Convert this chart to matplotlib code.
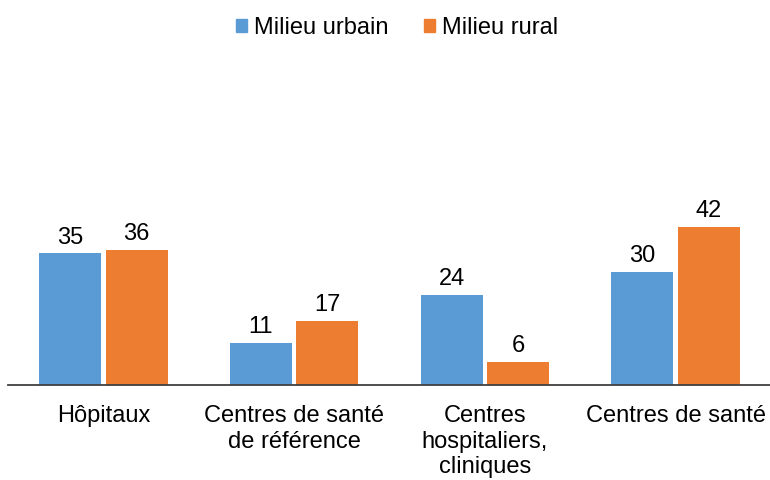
import matplotlib
matplotlib.use("Agg")
import matplotlib.pyplot as plt
from matplotlib.patches import Patch
import numpy as np

plt.rcParams['font.family'] = ['Liberation Sans', 'DejaVu Sans']

categories = ["Hôpitaux", "Centres de santé\nde référence", "Centres\nhospitaliers,\ncliniques", "Centres de santé"]
series_names = ["Milieu urbain", "Milieu rural"]
urbain = [35, 11, 24, 30]
rural = [36, 17, 6, 42]
colors = ["#5B9BD5", "#ED7D31"]

FS = 17
W, H = 770, 480
fig = plt.figure(figsize=(W / 100, H / 100), dpi=100)
left, right = 8, 771
top, bottom = 10, 384.5
ax = fig.add_axes([left / W, 1 - bottom / H, (right - left) / W, (bottom - top) / H])

x = np.arange(len(categories))
bw = 0.325
off = 0.1745
b1 = ax.bar(x - off, urbain, bw, color=colors[0])
b2 = ax.bar(x + off, rural, bw, color=colors[1])
for bars, vals in ((b1, urbain), (b2, rural)):
    for r, v in zip(bars, vals):
        ax.text(r.get_x() + r.get_width() / 2, v + 1.3, str(v), ha='center', va='bottom',
                fontsize=FS, color='#000000')

ax.set_xlim(-0.5, 3.5)
ax.set_ylim(0, 100)
ax.set_yticks([])
ax.set_xticks(x)
ax.set_xticklabels(categories, fontsize=FS, linespacing=1.2, va='top')
ax.tick_params(axis='x', length=0, pad=15)
for s in ['top', 'right', 'left']:
    ax.spines[s].set_visible(False)
ax.spines['bottom'].set_color('#404040')
ax.spines['bottom'].set_linewidth(1.3)

handles = [Patch(color=c) for c in colors]
fig.legend(handles, series_names, loc='center', bbox_to_anchor=(397 / W, 1 - 28 / H), ncol=2,
           frameon=False, fontsize=FS, handlelength=0.45, handleheight=0.45,
           handletextpad=0.3, columnspacing=1.5)

fig.savefig("out.png", dpi=100)
